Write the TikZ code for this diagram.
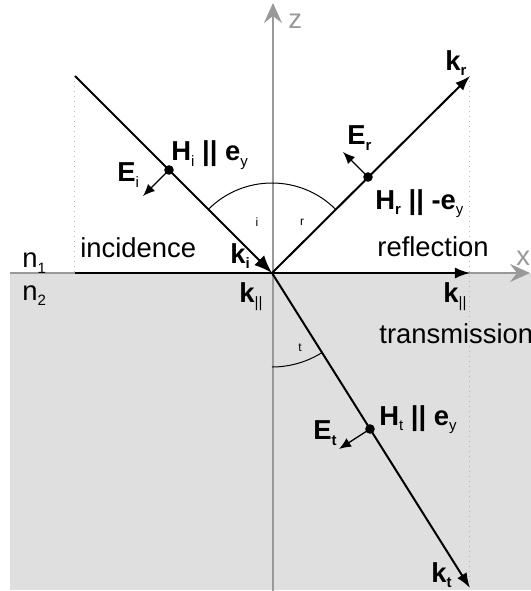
\documentclass[tikz,border=0pt]{standalone}
\usepackage{fontspec}
\setmainfont{Liberation Sans}
\usetikzlibrary{arrows.meta}
\definecolor{bgray}{HTML}{DFDFDF}
\definecolor{axgray}{HTML}{999999}
\definecolor{dotgray}{HTML}{B4B4B4}
\newcommand\sbx[1]{\raisebox{-0.4ex}{\fontsize{7.5}{8}\selectfont #1}}
\begin{document}
\begin{tikzpicture}[x=0.5pt,y=0.5pt,
 lbl/.style={inner sep=0pt,anchor=base west,font=\fontsize{13.7}{16}\selectfont},
 axlbl/.style={inner sep=0pt,anchor=base west,text=axgray,font=\fontsize{13.7}{16}\selectfont},
 tinylbl/.style={inner sep=0pt,font=\fontsize{6}{7}\selectfont},
 ray/.style={line width=1pt,-{Latex[length=7.5pt,width=5.5pt]}},
 bigray/.style={line width=1pt,-{Latex[length=9pt,width=7pt]}},
 efield/.style={line width=0.65pt,-{Latex[length=6pt,width=5pt]}},
 axis/.style={axgray,line width=1.1pt,-{Stealth[length=10pt,width=9pt,inset=3.5pt]}},
 guide/.style={dotgray,dotted,line width=0.5pt},
 dotpt/.style={circle,fill=black,inner sep=0pt,minimum size=4.8pt},
 arcline/.style={line width=0.5pt}]
\useasboundingbox (0,0) rectangle (531,591);
\begin{scope}
\clip (0,0) rectangle (531,591);
% medium 2
\fill[bgray] (10,1) rectangle (531,318);
% key points
\coordinate (O) at (272,318);
\coordinate (A) at (75,515);
\coordinate (L) at (75,318);
\coordinate (R) at (470,515);
\coordinate (T) at (470,3);
\coordinate (P) at (470,318);
\coordinate (Rb) at (470,1);
\coordinate (Zb) at (273,0);
\coordinate (Zt) at (273,588);
\coordinate (Xl) at (10,318);
\coordinate (Xr) at (530,318);
% guides
\draw[guide] (A) -- (L);
\draw[guide] (R) -- (Rb);
% axes
\draw[axis] (Zb) -- (Zt);
\draw[axis] (Xl) -- (Xr);
\node[axlbl] (zl) at (288,563) {z};
\node[axlbl] (xl) at (516,326) {x};
% angle arcs
\draw[arcline] (O) ++(45:90) arc[start angle=45,end angle=135,radius=90];
\draw[arcline] (O) ++(270:94) arc[start angle=270,end angle=302.2,radius=94];
\node[tinylbl] (ai) at (257,369) {i};
\node[tinylbl] (ar) at (302,369) {r};
\node[tinylbl] (at) at (300,243) {t};
% rays
\draw[ray] (L) -- (P);
\draw[bigray] (A) -- (O);
\draw[ray] (O) -- (R);
\draw[ray] (O) -- (T);
% field points
\node[dotpt] (Hi) at (169,421) {};
\node[dotpt] (Hr) at (368,414) {};
\node[dotpt] (Ht) at (370,162) {};
\coordinate (Ei) at (143,395);
\coordinate (Er) at (343,439);
\coordinate (Et) at (339,142);
\draw[efield] (Hi.center) -- (Ei);
\draw[efield] (Hr.center) -- (Er);
\draw[efield] (Ht.center) -- (Et);
% labels
\node[lbl] (hil) at (171,430) {\textbf{H}\sbx{i} \textbf{||} \textbf{e}\sbx{y}};
\node[lbl] (eil) at (117,409) {\textbf{E}\sbx{i}};
\node[lbl] (erl) at (347,446) {\textbf{E}\sbx{\textbf{r}}};
\node[lbl] (hrl) at (375,382) {\textbf{H}\sbx{\textbf{r}} \textbf{||} \textbf{-e}\sbx{y}};
\node[lbl] (htl) at (379,166) {\textbf{H}\sbx{t} \textbf{||} \textbf{e}\sbx{y}};
\node[lbl] (etl) at (313,151) {\textbf{E}\sbx{\textbf{t}}};
\node[lbl] (krl) at (445,521) {\textbf{k}\sbx{\textbf{r}}};
\node[lbl] (kil) at (230,328) {\textbf{k}\sbx{\textbf{i}}};
\node[lbl] (kpl1) at (239,289) {\textbf{k}\sbx{||}};
\node[lbl] (kpl2) at (443,289) {\textbf{k}\sbx{||}};
\node[lbl] (ktl) at (431,9) {\textbf{k}\sbx{\textbf{t}}};
\node[lbl] (inc) at (80,334) {incidence};
\node[lbl] (refl) at (377,335) {reflection};
\node[lbl] (trans) at (379,248) {transmission};
\node[lbl] (n1) at (22,323) {n\sbx{1}};
\node[lbl] (n2) at (22,291) {n\sbx{2}};
\end{scope}
\end{tikzpicture}
\end{document}
